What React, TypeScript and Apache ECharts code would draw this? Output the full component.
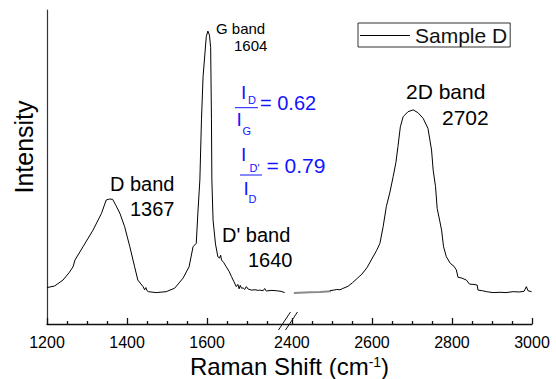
import React, { useEffect, useRef } from "react";
import * as echarts from "echarts";

// Virtual shift used to collapse the broken part of the x axis (1800–2400 cm-1)
const OFFSET = 588;

const majorTicks = [1200, 1400, 1600, 2400, 2600, 2800, 3000];
const minorTicks = [1250, 1300, 1350, 1450, 1500, 1550, 1650, 1700, 1750, 2450, 2500, 2550, 2650, 2700, 2750, 2850, 2900, 2950];

const leftShift = [1200, 1219, 1240, 1255, 1265, 1270, 1290, 1315, 1336, 1348, 1356, 1364, 1372, 1382, 1394, 1407, 1419, 1427, 1440, 1444, 1447, 1450, 1453, 1473, 1498, 1519, 1540, 1555, 1565, 1573, 1577, 1582, 1586, 1590, 1598, 1602, 1606, 1609, 1611, 1612, 1615, 1621, 1627, 1631, 1634, 1636, 1642, 1648, 1655, 1661, 1667, 1673, 1677, 1680, 1683, 1686, 1690, 1694, 1698, 1703, 1711, 1720, 1728, 1732, 1740, 1744, 1748, 1760, 1773, 1785, 1794];
const leftIntensity = [11.6, 12.1, 14.0, 16.3, 18.2, 20.4, 24.6, 29.9, 35.2, 39.5, 39.8, 39.7, 37.8, 35.3, 31.0, 24.6, 18.2, 14.0, 11.9, 10.9, 11.6, 10.6, 10.3, 10.0, 10.3, 11.4, 14.6, 18.2, 24.6, 25.7, 35.3, 45.9, 65.0, 78.8, 91.5, 93.3, 92.0, 88.0, 65.0, 45.9, 33.1, 25.5, 21.4, 21.0, 21.9, 20.4, 19.5, 18.2, 16.8, 15.1, 13.5, 11.9, 12.6, 11.2, 12.3, 11.4, 11.5, 11.0, 11.9, 11.1, 10.8, 10.9, 10.7, 10.8, 10.6, 11.3, 10.5, 10.7, 10.6, 10.4, 10.0];

const gapShift = [2405, 2445, 2470, 2497];
const gapIntensity = [9.9, 10.1, 10.2, 10.4];

const rightShift = [2495, 2505, 2512, 2520, 2527, 2540, 2551, 2563, 2575, 2588, 2601, 2612, 2620, 2628, 2636, 2645, 2653, 2660, 2665, 2671, 2678, 2690, 2703, 2715, 2728, 2740, 2749, 2753, 2759, 2763, 2770, 2774, 2779, 2786, 2796, 2805, 2811, 2815, 2825, 2836, 2844, 2855, 2863, 2865, 2876, 2886, 2903, 2920, 2935, 2953, 2968, 2980, 2986, 2990, 2999];
const rightIntensity = [10.6, 10.8, 11.0, 10.9, 11.3, 12.0, 13.1, 14.5, 15.9, 18.0, 21.0, 23.5, 25.7, 31.0, 37.4, 42.0, 46.9, 51.5, 56.5, 62.8, 66.0, 67.6, 68.2, 67.3, 65.5, 62.3, 55.4, 49.0, 43.7, 36.8, 32.5, 29.9, 24.6, 21.4, 19.3, 18.4, 17.2, 14.9, 14.6, 14.0, 12.7, 12.6, 12.4, 10.8, 10.6, 10.3, 10.0, 10.1, 10.0, 10.3, 10.2, 10.4, 11.9, 10.6, 10.3];

const FONT = "'Liberation Sans', Arial, Helvetica, sans-serif";
const BLUE = "#1414ff";

export default function App() {
  const ref = useRef<HTMLDivElement>(null);

  useEffect(() => {
    const el = ref.current!;
    const chart = echarts.init(el, null, { renderer: "svg" });
    const toV = (x: number) => (x >= 2000 ? x - OFFSET : x);
    const fromV = (v: number) => Math.round(v >= 1800 ? v + OFFSET : v);
    const pairs = (xs: number[], ys: number[]) => xs.map((x, i) => [toV(x), ys[i]]);

    chart.setOption({
      animation: false,
      textStyle: { fontFamily: FONT },
      grid: { left: 47, right: 24, top: 10, bottom: 55, containLabel: false, outerBoundsMode: "none" },
      legend: {
        data: ["Sample D"],
        left: 358,
        top: 23,
        icon: "rect",
        itemWidth: 50,
        itemHeight: 1,
        padding: [2, 3, 1, 2],
        borderColor: "#333",
        borderWidth: 1,
        textStyle: { fontSize: 21, color: "#111", fontFamily: FONT },
      },
      xAxis: [
        {
          type: "value",
          position: "bottom",
          min: 1200,
          max: toV(3000),
          axisLine: { show: true, lineStyle: { color: "#111", width: 1.3 } },
          axisTick: {
            show: true,
            inside: true,
            length: 6,
            customValues: majorTicks.map(toV),
            lineStyle: { color: "#111", width: 1.3 },
          },
          axisLabel: {
            customValues: majorTicks.map(toV),
            formatter: (v: number) => String(fromV(v)),
            fontSize: 16,
            color: "#000",
            margin: 10,
            fontFamily: FONT,
          },
          splitLine: { show: false },
          name: "Raman Shift (cm{sup|-1})",
          nameLocation: "middle",
          nameGap: 23,
          nameTextStyle: {
            fontSize: 24,
            lineHeight: 24,
            color: "#000",
            fontFamily: FONT,
            rich: { sup: { fontSize: 14, lineHeight: 24, verticalAlign: "top", color: "#000", fontFamily: FONT } },
          },
        },
        {
          type: "value",
          position: "bottom",
          min: 1200,
          max: toV(3000),
          axisLine: { show: false },
          axisTick: {
            show: true,
            inside: true,
            length: 3,
            customValues: minorTicks.map(toV),
            lineStyle: { color: "#111", width: 1.3 },
          },
          axisLabel: { show: false },
          splitLine: { show: false },
        },
      ],
      yAxis: {
        type: "value",
        min: 0,
        max: 100,
        axisLine: { show: true, lineStyle: { color: "#333", width: 1.2 } },
        axisTick: { show: false },
        axisLabel: { show: false },
        splitLine: { show: false },
        name: "Intensity",
        nameLocation: "middle",
        nameGap: 11,
        nameTextStyle: { fontSize: 25, color: "#000", fontFamily: FONT, padding: [0, 0, 0, 40] },
      },
      series: [
        {
          name: "Sample D",
          type: "line",
          data: pairs(leftShift, leftIntensity),
          symbol: "none",
          lineStyle: { color: "#000", width: 1 },
          itemStyle: { color: "#000" },
        },
        {
          name: "gap",
          type: "line",
          data: pairs(gapShift, gapIntensity),
          symbol: "none",
          lineStyle: { color: "#8a8a8a", width: 2 },
          itemStyle: { color: "#8a8a8a" },
        },
        {
          name: "Sample D",
          type: "line",
          data: pairs(rightShift, rightIntensity),
          symbol: "none",
          lineStyle: { color: "#000", width: 1 },
          itemStyle: { color: "#000" },
        },
      ],
    });

    const bx = chart.convertToPixel({ xAxisIndex: 0 }, 1806) as number;
    const by = chart.convertToPixel({ yAxisIndex: 0 }, 0) as number;

    const txt = (text: string, x: number, y: number, size: number, fill = "#000") => ({
      type: "text",
      x,
      y,
      silent: true,
      style: { text, fill, fontSize: size, fontFamily: FONT, align: "left", verticalAlign: "middle" },
    });
    const bline = (x1: number, y1: number, x2: number, y2: number, stroke = BLUE, w = 1) => ({
      type: "line",
      silent: true,
      shape: { x1, y1, x2, y2 },
      style: { stroke, lineWidth: w },
    });

    chart.setOption({
      graphic: [
        bline(bx - 11, by + 6, bx + 1, by - 12, "#111", 1),
        bline(bx - 4, by + 6, bx + 8, by - 12, "#111", 1),
        txt("G band", 216, 28, 15),
        txt("1604", 234, 45, 15),
        txt("D band", 110, 183.5, 20),
        txt("1367", 130, 209, 20),
        txt("D' band", 222, 234.5, 20),
        txt("1640", 248, 259.5, 20),
        txt("2D band", 406, 91.5, 21),
        txt("2702", 442, 117.5, 21),
        // I_D / I_G
        txt("I", 241, 92.7, 19, BLUE),
        txt("D", 248, 100.3, 11, BLUE),
        bline(235, 107.7, 258, 107.7),
        txt("I", 236.5, 119.5, 19, BLUE),
        txt("G", 242.5, 131.3, 11, BLUE),
        txt("= 0.62", 260, 103.3, 20, BLUE),
        // I_D' / I_D
        txt("I", 241, 154.7, 19, BLUE),
        txt("D'", 249.5, 168.3, 11, BLUE),
        bline(240, 175, 262, 175),
        txt("I", 243.5, 188, 19, BLUE),
        txt("D", 248.5, 198.8, 11, BLUE),
        txt("= 0.79", 266.5, 165.8, 21, BLUE),
      ],
    });

    return () => chart.dispose();
  }, []);

  return (
    <div style={{ position: "fixed", left: 0, top: 0, width: 550, height: 379, overflow: "hidden", background: "#fff" }}>
      <div ref={ref} style={{ width: 556, height: 379 }} />
    </div>
  );
}
